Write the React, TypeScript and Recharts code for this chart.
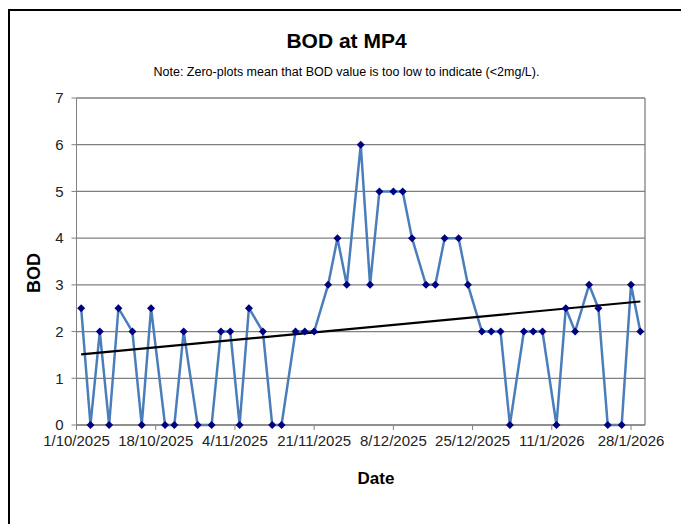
import React from "react";
import { CartesianGrid, Line, LineChart, ReferenceLine, XAxis, YAxis } from "recharts";

const sampleDates = [
  "2/10/2025", "4/10/2025", "6/10/2025", "8/10/2025", "10/10/2025", "13/10/2025", "15/10/2025",
  "17/10/2025", "20/10/2025", "22/10/2025", "24/10/2025", "27/10/2025", "30/10/2025", "1/11/2025",
  "3/11/2025", "5/11/2025", "7/11/2025", "10/11/2025", "12/11/2025", "14/11/2025", "17/11/2025",
  "19/11/2025", "21/11/2025", "24/11/2025", "26/11/2025", "28/11/2025", "1/12/2025", "3/12/2025",
  "5/12/2025", "8/12/2025", "10/12/2025", "12/12/2025", "15/12/2025", "17/12/2025", "19/12/2025",
  "22/12/2025", "24/12/2025", "27/12/2025", "29/12/2025", "31/12/2025", "2/1/2026", "5/1/2026",
  "7/1/2026", "9/1/2026", "12/1/2026", "14/1/2026", "16/1/2026", "19/1/2026", "21/1/2026",
  "23/1/2026", "26/1/2026", "28/1/2026", "30/1/2026",
];

const bodValues = [
  2.5, 0, 2, 0, 2.5, 2, 0,
  2.5, 0, 0, 2, 0, 0, 2,
  2, 0, 2.5, 2, 0, 0, 2,
  2, 2, 3, 4, 3, 6, 3,
  5, 5, 5, 4, 3, 3, 4,
  4, 3, 2, 2, 2, 0, 2,
  2, 2, 0, 2.5, 2, 3, 2.5,
  0, 0, 3, 2,
];

const xTickDates = ["1/10/2025", "18/10/2025", "4/11/2025", "21/11/2025", "8/12/2025", "25/12/2025", "11/1/2026", "28/1/2026"];
const axisStart = "1/10/2025";
const axisEnd = "31/1/2026";
const yTicks = [0, 1, 2, 3, 4, 5, 6, 7];

const DAY = 86400000;
const toTime = (s: string) => {
  const [d, m, y] = s.split("/").map(Number);
  return Date.UTC(y, m - 1, d);
};
const toDay = (s: string) => (toTime(s) - toTime(axisStart)) / DAY;
const fmtDay = (v: number) => {
  const dt = new Date(toTime(axisStart) + v * DAY);
  return `${dt.getUTCDate()}/${dt.getUTCMonth() + 1}/${dt.getUTCFullYear()}`;
};

const data = sampleDates.map((d, i) => ({ day: toDay(d), bod: bodValues[i] }));

// least-squares trendline, like Excel's linear trend
const n = data.length;
const mx = data.reduce((s, p) => s + p.day, 0) / n;
const my = data.reduce((s, p) => s + p.bod, 0) / n;
const slope =
  data.reduce((s, p) => s + (p.day - mx) * (p.bod - my), 0) /
  data.reduce((s, p) => s + (p.day - mx) ** 2, 0);
const trendData = [data[0], data[n - 1]].map((p) => ({ day: p.day, trend: my + slope * (p.day - mx) }));

const Diamond = (props: any) => {
  const { cx, cy } = props;
  if (cx == null || cy == null) return null;
  const r = 4;
  return <polygon points={`${cx},${cy - r} ${cx + r},${cy} ${cx},${cy + r} ${cx - r},${cy}`} fill="#000080" />;
};

const W = 681;
const H = 516;
const font = "'Liberation Sans', Arial, sans-serif";

export default function App() {
  return (
    <div style={{ position: "relative", width: W, height: H, fontFamily: font }}>
      <div style={{ position: "absolute", left: 0, top: 1, right: -10, bottom: -10, borderLeft: "2px solid #000", borderTop: "2px solid #000" }} />
      <div style={{ position: "absolute", left: 0, width: 677, top: 21, textAlign: "center", fontSize: 21, fontWeight: "bold", color: "#000" }}>
        BOD at MP4
      </div>
      <div style={{ position: "absolute", left: 0, width: 677, top: 57, textAlign: "center", fontSize: 12.5, color: "#000" }}>
        Note: Zero-plots mean that BOD value is too low to indicate (&lt;2mg/L).
      </div>
      <div style={{ position: "absolute", left: 310, width: 116, top: 461, textAlign: "center", fontSize: 17, fontWeight: "bold" }}>
        Date
      </div>
      <div style={{ position: "absolute", left: 26 - 50, top: 265 - 12, width: 100, textAlign: "center", fontSize: 18, fontWeight: "bold", transform: "rotate(-90deg)", lineHeight: "24px" }}>
        BOD
      </div>
      <div style={{ position: "absolute", left: 0, top: 0 }}>
        <LineChart width={W} height={H} data={data} margin={{ top: 90, right: 44, bottom: 69, left: 0 }}>
          <CartesianGrid vertical={false} stroke="#808080" strokeWidth={1.3} />
          <XAxis
            dataKey="day"
            type="number"
            domain={[toDay(axisStart), toDay(axisEnd)]}
            ticks={xTickDates.map(toDay)}
            tickFormatter={fmtDay}
            allowDataOverflow
            height={30}
            stroke="#808080"
            tickSize={5}
            tickMargin={5}
            tick={{ fill: "#222", fontSize: 15, fontFamily: font }}
            interval={0}
          />
          <YAxis
            type="number"
            domain={[0, 7]}
            ticks={yTicks}
            width={68.5}
            stroke="#808080"
            tickSize={5}
            tickMargin={8}
            tick={{ fill: "#222", fontSize: 15, fontFamily: font }}
            interval={0}
          />
          <ReferenceLine x={toDay(axisEnd)} stroke="#808080" strokeWidth={1.3} />
          <Line
            dataKey="bod"
            stroke="#4A7EBB"
            strokeWidth={2.5}
            dot={<Diamond />}
            activeDot={false}
            isAnimationActive={false}
          />
          <Line
            data={trendData}
            dataKey="trend"
            stroke="#000"
            strokeWidth={2.2}
            dot={false}
            activeDot={false}
            isAnimationActive={false}
          />
        </LineChart>
      </div>
    </div>
  );
}
